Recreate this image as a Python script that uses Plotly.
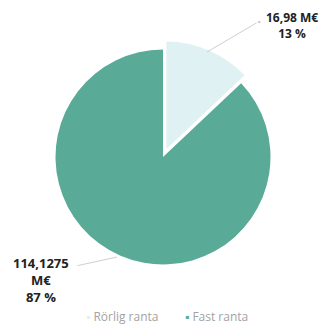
import plotly.graph_objects as go

labels = ["Rörlig ranta", "Fast ranta"]
values = [16.98, 114.1275]
value_text = ["16,98 M€<br>13 %", "114,1275<br>M€<br>87 %"]
colors = ["#dff1f3", "#5aaa98"]

W, H = 329, 325
OFF = 8  # page body margin shifts the figure


def px(x, y):
    # screen pixel -> paper coords
    return (x - OFF) / W, 1 - (y - OFF) / H


pull = 0.08
cx, cy, r = 163, 157, 107.5
half = r * (1 + pull)
x0, y1 = px(cx - half, cy - half)
x1, y0 = px(cx + half, cy + half)

fig = go.Figure(go.Pie(
    labels=labels,
    values=values,
    sort=False,
    direction="clockwise",
    rotation=0,
    pull=[pull, 0],
    marker=dict(colors=colors, line=dict(width=0)),
    textinfo="none",
    hoverinfo="label+value+percent",
    domain=dict(x=[x0, x1], y=[y0, y1]),
    showlegend=False,
))

lbl_font = dict(family="Open Sans", size=12, color="#222")

# leader lines
hx, hy = px(207, 52)
fig.add_annotation(x=hx, y=hy, xref="paper", yref="paper", ax=51, ay=-30,
                   showarrow=True, arrowhead=0, arrowwidth=1, arrowcolor="#cfcfcf",
                   text="", standoff=0)
hx, hy = px(258, 22)
fig.add_annotation(x=hx, y=hy, xref="paper", yref="paper", ax=4, ay=0,
                   showarrow=True, arrowhead=0, arrowwidth=1, arrowcolor="#9a9a9a",
                   text="", standoff=0)
hx, hy = px(117, 257)
fig.add_annotation(x=hx, y=hy, xref="paper", yref="paper", ax=-41, ay=9,
                   showarrow=True, arrowhead=0, arrowwidth=1, arrowcolor="#cfcfcf",
                   text="", standoff=0)

# value labels
tx, ty = px(292, 26)
fig.add_annotation(x=tx, y=ty, xref="paper", yref="paper", xanchor="center",
                   yanchor="middle", text="<b>" + value_text[0] + "</b>",
                   showarrow=False, font=lbl_font, align="center")
tx, ty = px(41, 280)
fig.add_annotation(x=tx, y=ty, xref="paper", yref="paper", xanchor="center",
                   yanchor="middle", text="<b>" + value_text[1] + "</b>",
                   showarrow=False, font=dict(family="Open Sans", size=13, color="#222"),
                   align="center")

# legend drawn as text
leg_y = 316
leg_x = [84, 183]
for name, col, lx in zip(labels, colors, leg_x):
    tx, ty = px(lx, leg_y)
    fig.add_annotation(x=tx, y=ty, xref="paper", yref="paper", xanchor="left",
                       yanchor="middle", showarrow=False,
                       text=f"<span style='color:{col}'>▪</span> {name}",
                       font=dict(family="Open Sans", size=12, color="#a3a3a3"))

fig.update_layout(
    width=W, height=H,
    margin=dict(l=0, r=0, t=0, b=0),
    paper_bgcolor="white",
)

fig.write_html("out.html")
